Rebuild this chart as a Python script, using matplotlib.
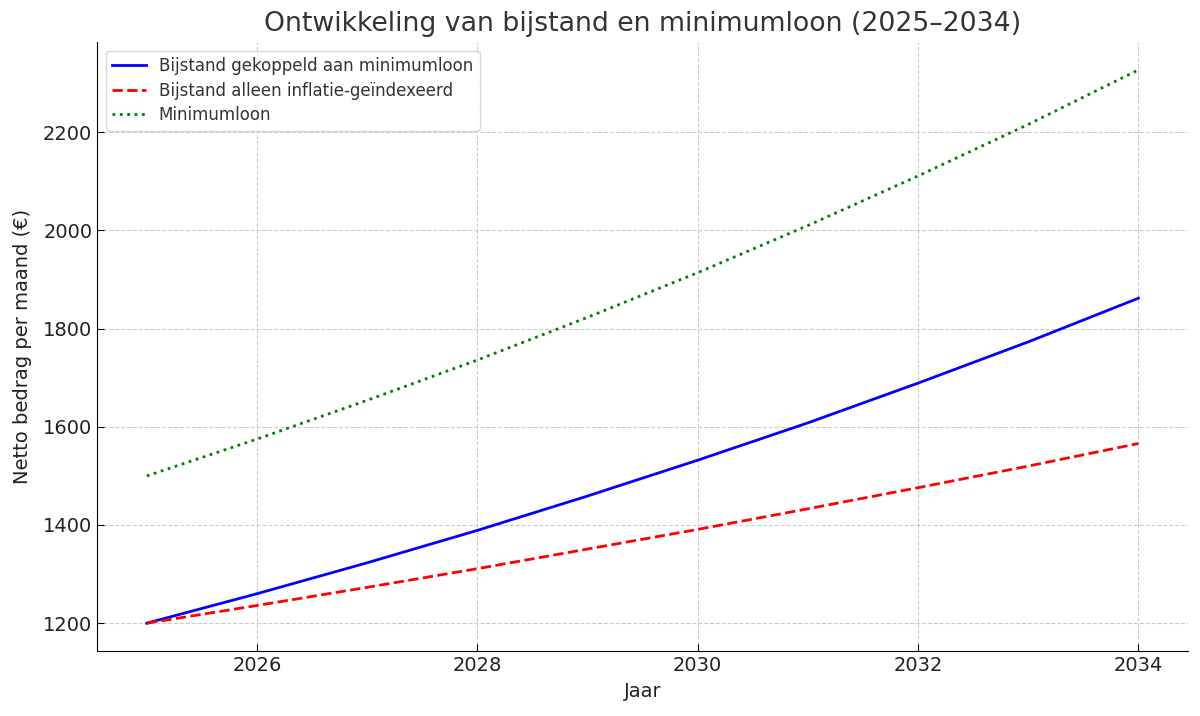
import matplotlib
matplotlib.use("Agg")
import matplotlib.pyplot as plt

years = [2025, 2026, 2027, 2028, 2029, 2030, 2031, 2032, 2033, 2034]
bijstand_gekoppeld = [1200, 1260, 1323, 1389, 1459, 1532, 1608, 1689, 1773, 1862]
bijstand_inflatie = [1200, 1236, 1273, 1311, 1351, 1391, 1433, 1476, 1520, 1566]
minimumloon = [1500, 1575, 1654, 1736, 1823, 1914, 2010, 2111, 2216, 2327]

labels = ["Bijstand gekoppeld aan minimumloon",
          "Bijstand alleen inflatie-geïndexeerd",
          "Minimumloon"]
title = "Ontwikkeling van bijstand en minimumloon (2025–2034)"

txt = "#333333"
fig = plt.figure(figsize=(12, 7.16), dpi=100)
ax = fig.add_axes([0.081, 0.091, 0.909, 0.850])
ax.plot(years, bijstand_gekoppeld, color="blue", linestyle="-", linewidth=2, label=labels[0])
ax.plot(years, bijstand_inflatie, color="red", linestyle="--", linewidth=2, label=labels[1])
ax.plot(years, minimumloon, color="green", linestyle=":", linewidth=2, label=labels[2])

ax.set_xticks([2026, 2028, 2030, 2032, 2034])
ax.set_yticks([1200, 1400, 1600, 1800, 2000, 2200])
ax.tick_params(labelsize=14, labelcolor="#222222", color="black", length=5, direction="in")
ax.grid(True, linestyle="--", color="#cccccc", linewidth=0.8)
for s in ["top", "right"]:
    ax.spines[s].set_visible(False)
ax.set_title(title, fontsize=19.3, color=txt, pad=8)
ax.set_xlabel("Jaar", fontsize=14, color="#222222", labelpad=5)
ax.set_ylabel("Netto bedrag per maand (€)", fontsize=14, color="#222222", labelpad=8)
leg = ax.legend(loc="upper left", fontsize=12, frameon=True, labelspacing=0.38)
for t in leg.get_texts():
    t.set_color(txt)
fig.savefig("out.png", dpi=100)
